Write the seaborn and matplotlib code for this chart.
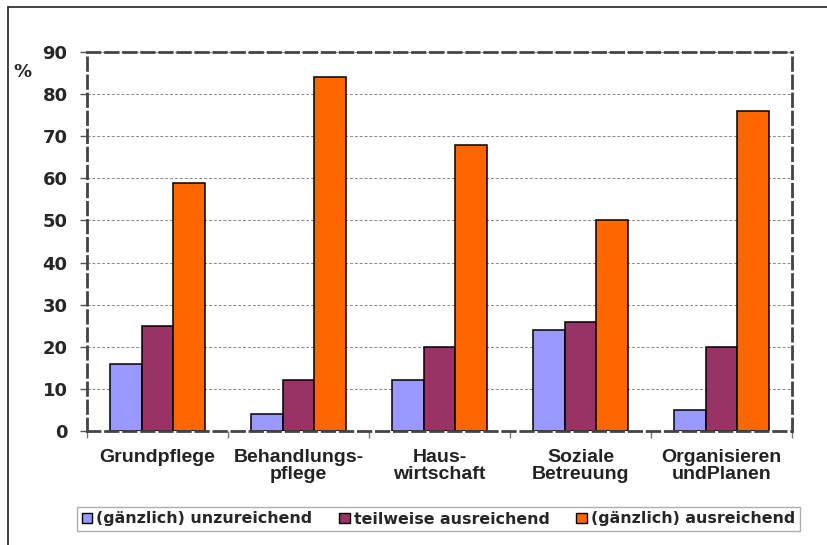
import matplotlib
matplotlib.use("Agg")
import matplotlib.pyplot as plt
import seaborn as sns
import pandas as pd
from matplotlib.lines import Line2D
from matplotlib.ticker import FixedLocator

categories = ["Grundpflege", "Behandlungs-\npflege", "Haus-\nwirtschaft", "Soziale\nBetreuung", "Organisieren\nundPlanen"]
series_names = ["(gänzlich) unzureichend", "teilweise ausreichend", "(gänzlich) ausreichend"]
unzureichend = [16, 4, 12, 24, 5]
teilweise = [25, 12, 20, 26, 20]
ausreichend = [59, 84, 68, 50, 76]
y_ticks = [0, 10, 20, 30, 40, 50, 60, 70, 80, 90]
colors = ["#9999FF", "#993366", "#FF6600"]

rows = []
for name, vals in zip(series_names, [unzureichend, teilweise, ausreichend]):
    for c, v in zip(categories, vals):
        rows.append({"cat": c, "series": name, "val": v})
df = pd.DataFrame(rows)

sns.set_style("white")
plt.rcParams['font.family'] = ['DejaVu Sans']

fig = plt.figure(figsize=(8.28, 5.45), dpi=100)
ax = fig.add_axes([87/828, 1-431/545, (792-87)/828, (431-52)/545])

sns.barplot(data=df, x="cat", y="val", hue="series", order=categories,
            hue_order=series_names, palette=colors, width=0.68,
            edgecolor="black", linewidth=1.1, saturation=1, ax=ax, legend=True, zorder=3)

ax.set_xlim(-0.5, 4.5)
ax.set_ylim(0, 90)
ax.set_yticks(y_ticks)
ax.set_yticklabels([str(t) for t in y_ticks], fontsize=13, fontweight="bold", family="DejaVu Sans")
ax.set_xlabel("")
ax.set_ylabel("")
for lab in ax.get_xticklabels():
    lab.set_fontfamily("Liberation Sans")
    lab.set_fontweight("bold")
    lab.set_fontsize(14)
    lab.set_linespacing(1.0)
    lab.set_color("#222222")
ax.tick_params(axis="x", length=0, pad=13)
ax.tick_params(axis="y", left=True, length=5, width=1, color="#555555", pad=9, direction="out")
ax.xaxis.set_minor_locator(FixedLocator([-0.5, 0.5, 1.5, 2.5, 3.5, 4.5]))
ax.tick_params(axis="x", which="minor", bottom=True, length=5, width=1, color="#777777", direction="out")

ax.yaxis.grid(True, linestyle=(0, (3, 2)), color="#888888", linewidth=0.7, zorder=0)
ax.set_axisbelow(True)

for s in ax.spines.values():
    s.set_visible(True)
    s.set_linestyle((0, (4.5, 2)))
    s.set_linewidth(2)
    s.set_color("#444444")
    s.set_zorder(4)

ax.get_legend().remove()
handles = [plt.Rectangle((0, 0), 1, 1, facecolor=c, edgecolor="black", linewidth=1) for c in colors]
leg = fig.legend(handles, series_names, loc="center", bbox_to_anchor=(438.5/828, 1-519/545),
                 ncol=3, frameon=True, fancybox=False, edgecolor="#999999",
                 prop={"family": "DejaVu Sans", "weight": "bold", "size": 11.4},
                 handlelength=0.65, handleheight=0.65, handletextpad=0.25, columnspacing=1.7,
                 borderpad=0.3)
leg.get_frame().set_linewidth(1)

fig.text(22/828, 1-72/545, "%", fontsize=13, fontweight="bold", ha="center", va="center")

fig.add_artist(Line2D([8/828, 8/828], [0, 1-7/545], color="#222222", linewidth=1.2, transform=fig.transFigure))
fig.add_artist(Line2D([8/828, 1], [1-7/545, 1-7/545], color="#222222", linewidth=1.2, transform=fig.transFigure))

fig.savefig("out.png", dpi=100)
